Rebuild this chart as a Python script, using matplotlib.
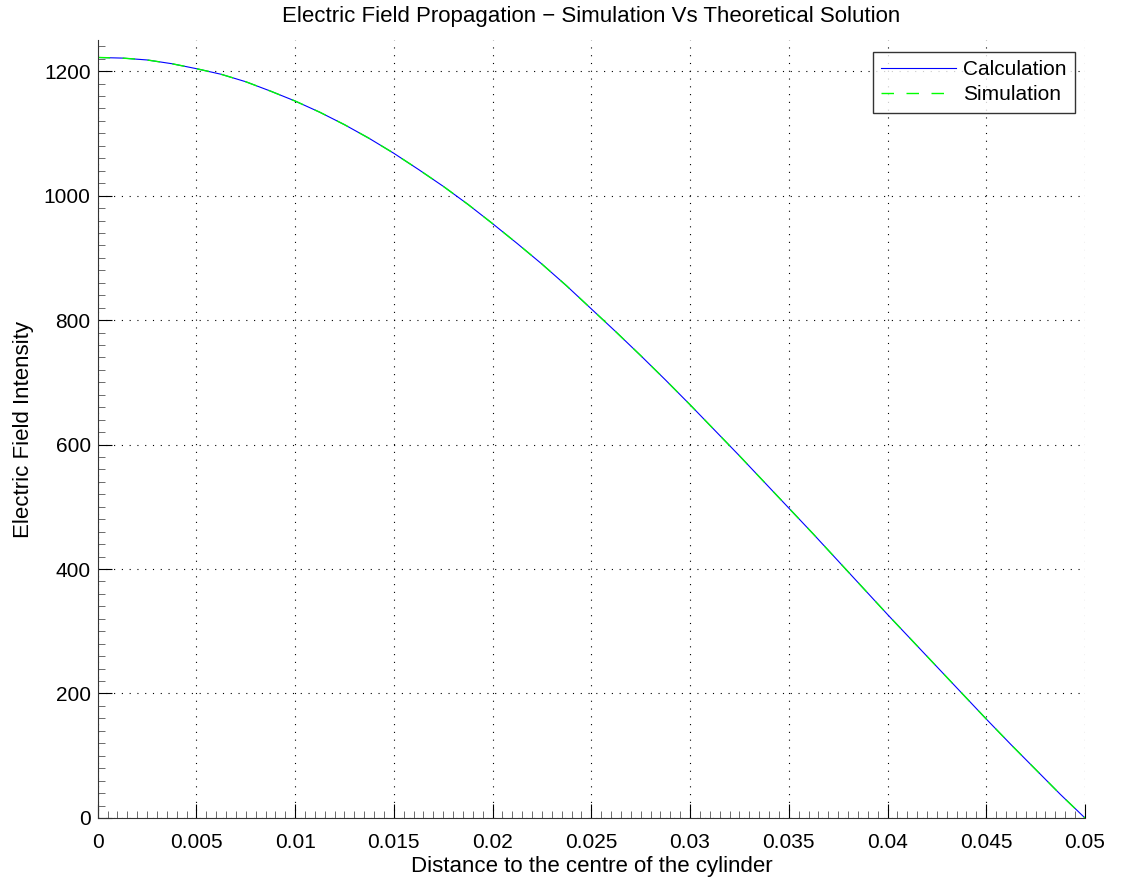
import matplotlib
matplotlib.use("Agg")
import matplotlib.pyplot as plt
from matplotlib.ticker import MultipleLocator

# distance from centre (m) and field values
distance = [0.0, 0.00125, 0.0025, 0.00375, 0.005, 0.00625, 0.0075, 0.00875,
            0.01, 0.01125, 0.0125, 0.01375, 0.015, 0.01625, 0.0175, 0.01875,
            0.02, 0.02125, 0.0225, 0.02375, 0.025, 0.02625, 0.0275, 0.02875,
            0.03, 0.03125, 0.0325, 0.03375, 0.035, 0.03625, 0.0375, 0.03875,
            0.04, 0.04125, 0.0425, 0.04375, 0.045, 0.04625, 0.0475, 0.04875, 0.05]
calculation = [1222, 1221, 1218, 1212, 1204, 1195, 1183, 1168,
               1152, 1134, 1114, 1092, 1068, 1042, 1015, 986,
               955, 923, 890, 855, 818, 781, 743, 704,
               664, 623, 582, 540, 498, 456, 413, 370,
               327, 285, 243, 201, 159, 118, 78, 38, 0]
simulation = [1222, 1221, 1218, 1212, 1204, 1195, 1183, 1168,
              1152, 1134, 1114, 1092, 1068, 1042, 1015, 986,
              955, 923, 890, 855, 818, 781, 743, 704,
              664, 623, 582, 540, 498, 456, 413, 370,
              327, 285, 243, 201, 159, 118, 78, 38, 0]
xtick_labels = ['0', '0.005', '0.01', '0.015', '0.02', '0.025', '0.03',
                '0.035', '0.04', '0.045', '0.05']

TICK_FS = 15
LABEL_FS = 16
plt.rcParams['font.family'] = ['Liberation Sans', 'DejaVu Sans']

fig = plt.figure(figsize=(11.33, 8.8), dpi=100)
ax = fig.add_axes([0.0862, 0.0705, 0.9576 - 0.0862, 0.9545 - 0.0705])

ax.plot(distance, calculation, '-', color=(0, 0, 1), linewidth=0.8, label='Calculation')
ax.plot(distance, simulation, '--', color=(0, 1, 0), linewidth=1.0,
        dashes=(9, 9), label='Simulation')

ax.set_xlim(0, 0.05)
ax.set_ylim(0, 1250)
ax.set_xticks([i * 0.005 for i in range(11)])
ax.set_xticklabels(xtick_labels)
ax.xaxis.set_minor_locator(MultipleLocator(0.0005))
ax.yaxis.set_major_locator(MultipleLocator(200))
ax.yaxis.set_minor_locator(MultipleLocator(20))

ax.tick_params(which='major', direction='in', length=10, width=0.8,
               labelsize=TICK_FS, colors='black')
ax.tick_params(axis='x', which='major', pad=11)
ax.tick_params(axis='y', which='major', pad=5)
ax.tick_params(which='minor', direction='in', length=5, width=0.6, color='#555555')

ax.spines['top'].set_visible(False)
ax.spines['right'].set_visible(False)
for s in ['left', 'bottom']:
    ax.spines[s].set_linewidth(0.8)
    ax.spines[s].set_color('#333333')

ax.grid(True, which='major', color='black', linestyle=(0, (1, 6)), linewidth=0.8)
ax.set_axisbelow(True)

ax.set_title("Electric Field Propagation \u2212 Simulation Vs Theoretical Solution",
             fontsize=LABEL_FS, pad=13)
ax.set_xlabel("Distance to the centre of the cylinder", fontsize=LABEL_FS, labelpad=3)
ax.set_ylabel("Electric Field Intensity", fontsize=LABEL_FS, labelpad=7)

leg = ax.legend(loc='upper right', bbox_to_anchor=(0.99, 0.985), fontsize=TICK_FS,
                frameon=True, fancybox=False, handlelength=3.6, handletextpad=0.35,
                borderpad=0.4, labelspacing=0.3, borderaxespad=0)
leg.get_frame().set_edgecolor('black')
leg.get_frame().set_linewidth(1.0)

fig.savefig("out.png", dpi=100)
